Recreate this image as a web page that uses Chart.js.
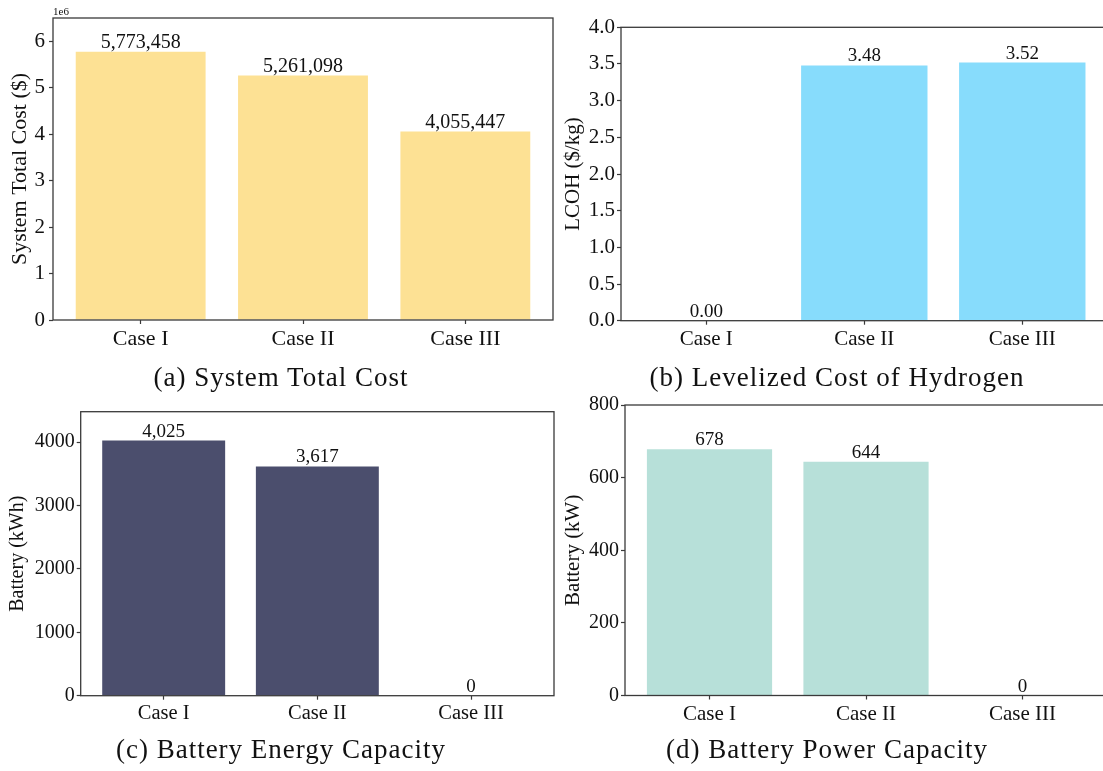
<!DOCTYPE html>
<html><head><meta charset="utf-8">
<script src="https://cdn.jsdelivr.net/npm/chart.js@4.4.1/dist/chart.umd.min.js"></script>
<style>
html,body{margin:0;padding:0;background:#fff;overflow:hidden;width:1103px;height:771px;position:relative;}
canvas{position:absolute;}
.cap{position:absolute;width:600px;text-align:center;font-family:'Liberation Serif',serif;font-size:27px;letter-spacing:1px;color:#111;line-height:30px;white-space:nowrap;}
</style></head><body>
<canvas id="ca" width="560" height="365" style="left:0;top:0"></canvas>
<canvas id="cb" width="600" height="365" style="left:560px;top:0"></canvas>
<canvas id="cc" width="560" height="360" style="left:0;top:380px"></canvas>
<canvas id="cd" width="600" height="360" style="left:560px;top:380px"></canvas>
<div class="cap" style="left:-19px;top:362px">(a) System Total Cost</div>
<div class="cap" style="left:537px;top:362px">(b) Levelized Cost of Hydrogen</div>
<div class="cap" style="left:-19px;top:734px">(c) Battery Energy Capacity</div>
<div class="cap" style="left:527px;top:734px">(d) Battery Power Capacity</div>
<script>
const categories = ['Case I', 'Case II', 'Case III'];
const totalCost = [5773458, 5261098, 4055447];
const lcoh = [0.00, 3.48, 3.52];
const batteryEnergy = [4025, 3617, 0];
const batteryPower = [678, 644, 0];

const costTicks = [0, 1e6, 2e6, 3e6, 4e6, 5e6, 6e6];
const lcohTicks = [0, 0.5, 1.0, 1.5, 2.0, 2.5, 3.0, 3.5, 4.0];
const energyTicks = [0, 1000, 2000, 3000, 4000];
const powerTicks = [0, 200, 400, 600, 800];

const FONT = "'Liberation Serif', 'Times New Roman', serif";
const SPINE = '#3a3a3a';

function makeChart(id, p) {
  const framePlugin = {
    id: 'frame_' + id,
    afterDatasetsDraw(chart) {
      const a = chart.chartArea, ctx = chart.ctx;
      ctx.save();
      ctx.strokeStyle = SPINE; ctx.lineWidth = 1.3;
      ctx.strokeRect(a.left, a.top, a.right - a.left, a.bottom - a.top);
      ctx.font = p.labelSize + 'px ' + FONT;
      ctx.fillStyle = '#111'; ctx.textAlign = 'center'; ctx.textBaseline = 'alphabetic';
      const meta = chart.getDatasetMeta(0);
      meta.data.forEach((bar, i) => {
        ctx.fillText(p.labelFmt(p.values[i]), bar.x, bar.y - 4);
      });
      if (p.offsetText) {
        ctx.font = '11px ' + FONT; ctx.textAlign = 'left';
        ctx.fillText(p.offsetText, a.left, a.top - 3);
      }
      ctx.restore();
    }
  };
  return new Chart(document.getElementById(id), {
    type: 'bar',
    data: {
      datasets: [{
        data: categories.map((c, i) => ({ x: i, y: p.values[i] })),
        backgroundColor: p.color,
        borderWidth: 0,
        categoryPercentage: 1.0,
        barPercentage: 0.8
      }]
    },
    options: {
      responsive: false,
      animation: false,
      layout: { padding: { top: p.padTop, right: p.padRight, left: 0, bottom: 0 } },
      plugins: { legend: { display: false }, tooltip: { enabled: false }, title: { display: false } },
      scales: {
        x: {
          type: 'linear', min: -0.54, max: 2.54, offset: false,
          afterBuildTicks: (s) => { s.ticks = categories.map((c, i) => ({ value: i })); },
          afterFit: (s) => { s.height = p.xH; },
          border: { display: false },
          grid: { display: true, offset: false, drawOnChartArea: false, drawTicks: true, tickLength: 4, tickColor: SPINE, tickWidth: 1.2 },
          ticks: { color: '#111', padding: 2, maxRotation: 0, autoSkip: false,
            font: { family: FONT, size: p.xTickSize },
            callback: (v) => categories[Math.round(v)] }
        },
        y: {
          min: 0, max: p.yMax,
          afterBuildTicks: (s) => { s.ticks = p.yTicks.map((v) => ({ value: v })); },
          afterFit: (s) => { s.width = p.yW; },
          border: { display: false },
          grid: { display: true, drawOnChartArea: false, drawTicks: true, tickLength: 4, tickColor: SPINE, tickWidth: 1.2 },
          ticks: { color: '#111', padding: p.yTickPad, autoSkip: false,
            font: { family: FONT, size: p.yTickSize },
            callback: p.tickFmt },
          title: { display: true, text: p.yTitle, color: '#111', padding: { top: p.titlePad, bottom: 0 },
            font: { family: FONT, size: p.yTitleSize } }
        }
      }
    },
    plugins: [framePlugin]
  });
}

const fmtComma = (v) => Math.round(v).toLocaleString('en-US');

makeChart('ca', {
  values: totalCost, color: '#FDE194', yTicks: costTicks,
  yMax: 6.5e6, tickFmt: (v) => String(Math.round(v / 1e6)),
  labelFmt: fmtComma, labelSize: 20, offsetText: '1e6',
  yTitle: 'System Total Cost ($)', yTitleSize: 22, titlePad: 7,
  xTickSize: 22, yTickSize: 21, yTickPad: 4,
  yW: 53, xH: 45, padTop: 18, padRight: 7
});

makeChart('cb', {
  values: lcoh, color: '#87DCFC', yTicks: lcohTicks,
  yMax: 4.0, tickFmt: (v) => v.toFixed(1),
  labelFmt: (v) => v.toFixed(2), labelSize: 19,
  yTitle: 'LCOH ($/kg)', yTitleSize: 21, titlePad: 1,
  xTickSize: 21, yTickSize: 21, yTickPad: 2,
  yW: 61, xH: 44.3, padTop: 27.3, padRight: 52.4
});

makeChart('cc', {
  values: batteryEnergy, color: '#4B4E6D', yTicks: energyTicks,
  yMax: 4480, tickFmt: (v) => String(Math.round(v)),
  labelFmt: fmtComma, labelSize: 19,
  yTitle: 'Battery (kWh)', yTitleSize: 20, titlePad: 6,
  xTickSize: 20.5, yTickSize: 20, yTickPad: 2,
  yW: 80.7, xH: 44.3, padTop: 31.7, padRight: 6
});

makeChart('cd', {
  values: batteryPower, color: '#B7E0D9', yTicks: powerTicks,
  yMax: 800, tickFmt: (v) => String(Math.round(v)),
  labelFmt: fmtComma, labelSize: 19,
  yTitle: 'Battery (kW)', yTitleSize: 21, titlePad: 1,
  xTickSize: 21, yTickSize: 20, yTickPad: 2,
  yW: 65, xH: 44.5, padTop: 25, padRight: 53
});
</script>
</body></html>
